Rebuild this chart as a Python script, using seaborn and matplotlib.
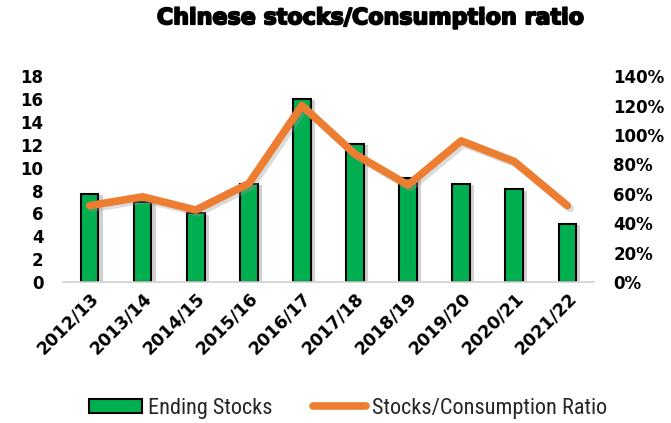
import matplotlib
matplotlib.use("Agg")
import matplotlib.pyplot as plt
import matplotlib.patheffects as pe
from matplotlib.patches import Patch
from matplotlib.lines import Line2D
from matplotlib.ticker import PercentFormatter
import seaborn as sns

seasons = ["2012/13", "2013/14", "2014/15", "2015/16", "2016/17",
           "2017/18", "2018/19", "2019/20", "2020/21", "2021/22"]
ending_stocks = [7.7, 7.0, 6.0, 8.6, 16.0, 12.1, 9.1, 8.6, 8.1, 5.1]
stocks_to_use = [0.52, 0.58, 0.49, 0.67, 1.20, 0.87, 0.66, 0.96, 0.82, 0.52]

bar_color = "#00B050"
line_color = "#ED7D31"

sns.set_theme(style="white")
plt.rcParams["font.family"] = ["DejaVu Sans"]

fig = plt.figure(figsize=(6.71, 4.23), dpi=100)
ax = fig.add_axes([0.094, 0.333, 0.791, 0.487])

shadow = [pe.SimplePatchShadow(offset=(3, -1), shadow_rgbFace="#999999", alpha=0.45), pe.Normal()]
sns.barplot(x=seasons, y=ending_stocks, color=bar_color, width=0.33,
            edgecolor="black", linewidth=1.5, saturation=1, ax=ax)
for p in ax.patches:
    p.set_path_effects(shadow)

ax2 = ax.twinx()
sns.lineplot(x=seasons, y=stocks_to_use, color=line_color, linewidth=5.5,
             sort=False, ax=ax2)
for ln in ax2.lines:
    ln.set_solid_capstyle("round")
    ln.set_solid_joinstyle("round")
    ln.set_path_effects([pe.SimpleLineShadow(offset=(2, -2), shadow_color="#999999", alpha=0.35), pe.Normal()])

ax.set_xlim(-0.5, 9.5)
ax.set_ylim(0, 18)
ax.set_yticks(range(0, 19, 2))
ax2.set_ylim(0, 1.4)
ax2.set_yticks([i / 10 for i in range(0, 15, 2)])
ax2.yaxis.set_major_formatter(PercentFormatter(1.0, decimals=0))

for a in (ax, ax2):
    for s in a.spines.values():
        s.set_visible(False)
    a.set_xlabel("")
    a.set_ylabel("")
ax.spines["bottom"].set_visible(True)
ax.spines["bottom"].set_color("#d0d0d0")
ax.spines["bottom"].set_linewidth(1.2)

ax.tick_params(axis="y", length=0, pad=14)
ax2.tick_params(axis="y", length=0, pad=14)
ax.tick_params(axis="x", length=0, pad=5)
for lbl in ax.get_yticklabels() + ax2.get_yticklabels():
    lbl.set_fontsize(12)
    lbl.set_fontweight("bold")
    lbl.set_color("black")
for lbl in ax2.get_yticklabels():
    lbl.set_horizontalalignment("left")
ax.set_xticks(range(len(seasons)))
ax.set_xticklabels(seasons, rotation=45, ha="right", rotation_mode="anchor",
                   fontsize=12.5, fontweight="bold", color="black")

fig.text(0.553, 0.957, "Chinese stocks/Consumption ratio", ha="center", va="center",
         fontsize=16, fontweight="heavy", color="black",
         path_effects=[pe.withStroke(linewidth=1.3, foreground="black")])

handles = [Patch(facecolor=bar_color, edgecolor="black", linewidth=1.5),
           Line2D([0], [0], color=line_color, linewidth=5.5, solid_capstyle="round")]
fig.legend(handles, ["Ending Stocks", "Stocks/Consumption Ratio"], loc="center",
           bbox_to_anchor=(0.519, 0.035), ncol=2, frameon=False,
           handlelength=2.4, handleheight=0.55, columnspacing=1.8, handletextpad=0.27,
           prop={"family": ["Liberation Sans Narrow", "Roboto Condensed", "DejaVu Sans"], "size": 16})

fig.savefig("out.png", dpi=100)
